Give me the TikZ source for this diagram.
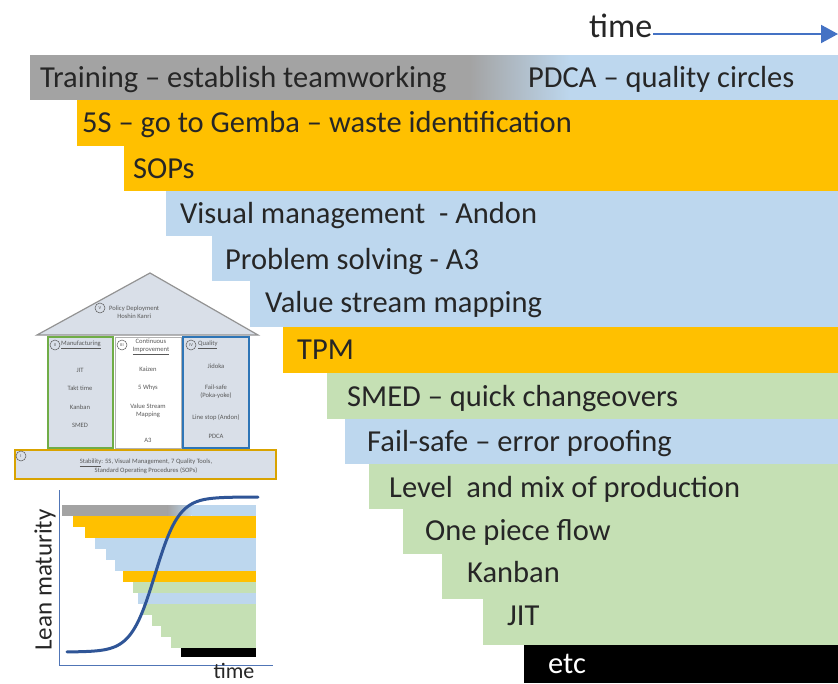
\documentclass[tikz,border=0pt]{standalone}
\usepackage{fontspec}
\setmainfont{Carlito}
\usetikzlibrary{arrows.meta}
\definecolor{lgray}{HTML}{A3A3A3}
\definecolor{lblue}{HTML}{BDD7EE}
\definecolor{lorange}{HTML}{FFC000}
\definecolor{lgreen}{HTML}{C5E0B4}
\definecolor{txt}{HTML}{262626}
\definecolor{axblue}{HTML}{4472C4}
\definecolor{curveblue}{HTML}{2F5597}
\definecolor{housefill}{HTML}{D9DFE8}
\definecolor{mgreen}{HTML}{70AD47}
\definecolor{qblue}{HTML}{2E75B6}
\definecolor{housetxt}{HTML}{595959}
\newcommand\leanbars{%
  \fill[lgray] (30,55) rectangle (470,100);
  \shade[left color=lgray, right color=lblue] (469.5,55) rectangle (570.5,100);
  \fill[lblue] (570,55) rectangle (838,100);
  \foreach \l/\t/\b/\c in {77/100/146/lorange,124/146/191/lorange,166/191/236/lblue,
      212/236/281/lblue,250/281/327/lblue,283/327/373/lorange,327/373/419/lgreen,
      345/419/464/lblue,369/464/509/lgreen,403/509/554/lgreen,442/554/599/lgreen,
      483/599/645/lgreen,524/645/683/black}
    {\fill[\c] (\l,\t) rectangle (838,\b);}%
}
\tikzset{
  bandtext/.style={anchor=base west, inner sep=0pt, font=\fontsize{30.5}{30.5}\selectfont, text=txt},
  htxt/.style={inner sep=0pt, font=\fontsize{6.6}{7.6}\selectfont, text=housetxt, align=center},
  hcirc/.style={circle, draw=housetxt, line width=0.5pt, inner sep=0.5pt, minimum size=10pt, font=\fontsize{4.5}{5}\selectfont, text=housetxt},
}
\begin{document}
\begin{tikzpicture}[x=1pt,y=-1pt]
\useasboundingbox (0,0) rectangle (838,683);
\fill[white] (0,0) rectangle (838,683);
% main bars
\leanbars
% time arrow
\node[anchor=base west, inner sep=0pt, font=\fontsize{34}{34}\selectfont, text=txt] (time) at (589,37) {time};
\coordinate (tend) at (838,34);
\draw[axblue, line width=2pt, -{Triangle[length=17pt,width=18pt]}] (time.east |- tend) ++(1,0) -- (tend);
% band texts
\node[bandtext] (t1) at (40,87) {Training – establish teamworking};
\node[bandtext] (t1b) at (528,87) {PDCA – quality circles};
\node[bandtext] (t2) at (82,132) {5S – go to Gemba – waste identification};
\node[bandtext] (t3) at (133,178) {SOPs};
\node[bandtext] (t4) at (180,223) {Visual management \ - Andon};
\node[bandtext] (t5) at (225,269) {Problem solving - A3};
\node[bandtext] (t6) at (265,312) {Value stream mapping};
\node[bandtext] (t7) at (297,359) {TPM};
\node[bandtext] (t8) at (347,406) {SMED – quick changeovers};
\node[bandtext] (t9) at (367,451) {Fail-safe – error proofing};
\node[bandtext] (t10) at (389,497) {Level \ and mix of production};
\node[bandtext] (t11) at (425,540) {One piece flow};
\node[bandtext] (t12) at (467,582) {Kanban};
\node[bandtext] (t13) at (507,625) {JIT};
\node[bandtext, text=white] (t14) at (548,673) {etc};
% house
\draw[gray!85, fill=housefill, line width=1.2pt, line join=miter] (37,335) -- (150,273) -- (258,335) -- cycle;
\draw[mgreen, line width=2pt, fill=housefill] (48,337) rectangle (113,448);
\draw[gray!60, line width=0.6pt, fill=white] (115,337) rectangle (181,448);
\draw[qblue, line width=2pt, fill=housefill] (183,337) rectangle (249,448);
\draw[lorange!85!black, line width=1.5pt, fill=housefill] (15,450) rectangle (276,479);
\node[hcirc] (cV) at (100,308) {V};
\node[htxt, anchor=west] (roof) at (109,312) {Policy Deployment\\Hoshin Kanri};
\node[hcirc] (cII) at (55,345) {II};
\node[htxt, anchor=west] (manu) at (61,345) {\underline{Manufacturing}};
\node[htxt] (m1) at (80,370) {JIT};
\node[htxt] (m2) at (80,388) {Takt time};
\node[htxt] (m3) at (80,407) {Kanban};
\node[htxt] (m4) at (80,425) {SMED};
\node[hcirc] (cIII) at (122,345) {III};
\node[htxt] (ci) at (151,347) {Continuous\\\underline{Improvement}};
\node[htxt] (c1) at (148,369) {Kaizen};
\node[htxt] (c2) at (148,388) {5 Whys};
\node[htxt] (c3) at (148,411) {Value Stream\\Mapping};
\node[htxt] (c4) at (148,440) {A3};
\node[hcirc] (cIV) at (191,345) {IV};
\node[htxt, anchor=west] (qual) at (198,345) {\underline{Quality}};
\node[htxt] (q1) at (216,366) {Jidoka};
\node[htxt] (q2) at (216,392) {Fail-safe\\(Poka-yoke)};
\node[htxt] (q3) at (216,418) {Line stop (Andon)};
\node[htxt] (q4) at (216,436) {PDCA};
\node[hcirc] (cI) at (21,456) {I};
\node[htxt] (base) at (146,466) {\underline{Stability}: 5S, Visual Management, 7 Quality Tools,\\Standard Operating Procedures (SOPs)};
% inset chart
\begin{scope}[shift={(62,505)}, xscale=0.24, yscale=0.242, shift={(-30,-55)}]
\leanbars
\end{scope}
\coordinate (ax0) at (59,665);
\coordinate (axy) at (59,490);
\coordinate (axx) at (273,665);
\draw[axblue!80!gray, line width=0.9pt] (axy) -- (ax0) -- (axx);
\draw[curveblue, line width=3pt, line cap=round] plot[domain=67:258, samples=120] (\x, {652 - 155/(1+exp(-(\x-155)/12))});
\node[rotate=90, inner sep=0pt, font=\fontsize{25}{25}\selectfont, text=txt] (lm) at (45,580) {Lean maturity};
\node[anchor=base, inner sep=0pt, font=\fontsize{22}{22}\selectfont, text=txt] (itime) at (234,678) {time};
\end{tikzpicture}
\end{document}
